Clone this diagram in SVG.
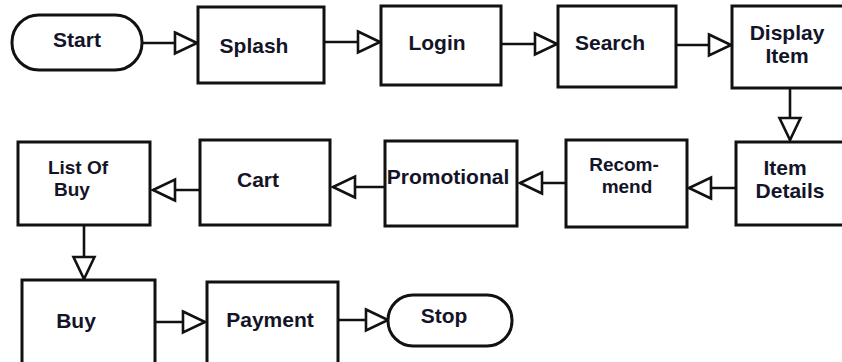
<svg xmlns="http://www.w3.org/2000/svg" width="842" height="362" viewBox="0 0 842 362">
  <defs>
    <style>
      .box { fill: #ffffff; stroke: #111111; stroke-width: 3; }
      .lbl { font-family: "Liberation Sans", Arial, sans-serif; font-weight: 700; font-size: 21px; fill: #141428; text-anchor: middle; }
      .tight { font-size: 19px; }
      .edge { fill: none; stroke: #111111; stroke-width: 2.6; }
    </style>
    <marker id="arr" viewBox="0 0 26 26" refX="24" refY="13" markerWidth="26" markerHeight="26" markerUnits="userSpaceOnUse" orient="auto">
      <path d="M2,2.5 L24,13 L2,23.5 Z" fill="#ffffff" stroke="#111111" stroke-width="2.6" stroke-linejoin="miter"/>
    </marker>
  </defs>
  <rect width="842" height="362" fill="#ffffff"/>

  <g id="connectors">
    <path class="edge" d="M142,43 H197" marker-end="url(#arr)"/>
    <path class="edge" d="M324,42 H380" marker-end="url(#arr)"/>
    <path class="edge" d="M501,44 H557" marker-end="url(#arr)"/>
    <path class="edge" d="M676,45 H731" marker-end="url(#arr)"/>
    <path class="edge" d="M790,88 V140" marker-end="url(#arr)"/>
    <path class="edge" d="M736,188 H689" marker-end="url(#arr)"/>
    <path class="edge" d="M566,183 H520" marker-end="url(#arr)"/>
    <path class="edge" d="M385,187 H333" marker-end="url(#arr)"/>
    <path class="edge" d="M200,190 H153" marker-end="url(#arr)"/>
    <path class="edge" d="M84,225 V279" marker-end="url(#arr)"/>
    <path class="edge" d="M155,322 H205" marker-end="url(#arr)"/>
    <path class="edge" d="M338,320 H388" marker-end="url(#arr)"/>
  </g>

  <g id="start">
    <rect class="box" x="12" y="15" width="130" height="55" rx="27" ry="27"/>
    <text class="lbl" x="77" y="47">Start</text>
  </g>
  <g id="splash">
    <rect class="box" x="198" y="7" width="126" height="76"/>
    <text class="lbl" x="254" y="53">Splash</text>
  </g>
  <g id="login">
    <rect class="box" x="381" y="6" width="120" height="79"/>
    <text class="lbl" x="437" y="50">Login</text>
  </g>
  <g id="search">
    <rect class="box" x="558" y="6" width="118" height="81"/>
    <text class="lbl" x="610" y="50">Search</text>
  </g>
  <g id="display-item">
    <rect class="box" x="732" y="6" width="120" height="82"/>
    <text class="lbl" x="787" y="40">Display</text>
    <text class="lbl" x="787" y="63">Item</text>
  </g>
  <g id="item-details">
    <rect class="box" x="736" y="142" width="120" height="83"/>
    <text class="lbl" x="785" y="175">Item</text>
    <text class="lbl" x="790" y="198">Details</text>
  </g>
  <g id="recommend">
    <rect class="box" x="566" y="140" width="121" height="87"/>
    <text class="lbl tight" x="624" y="171">Recom-</text>
    <text class="lbl tight" x="627" y="193">mend</text>
  </g>
  <g id="promotional">
    <rect class="box" x="385" y="141" width="132" height="85"/>
    <text class="lbl" x="448" y="184">Promotional</text>
  </g>
  <g id="cart">
    <rect class="box" x="200" y="140" width="130" height="85"/>
    <text class="lbl" x="258" y="187">Cart</text>
  </g>
  <g id="list-of-buy">
    <rect class="box" x="18" y="142" width="132" height="83"/>
    <text class="lbl tight" x="78" y="174">List Of</text>
    <text class="lbl tight" x="72" y="196">Buy</text>
  </g>
  <g id="buy">
    <rect class="box" x="22" y="280" width="133" height="90"/>
    <text class="lbl" x="76" y="328">Buy</text>
  </g>
  <g id="payment">
    <rect class="box" x="207" y="282" width="131" height="90"/>
    <text class="lbl" x="270" y="327">Payment</text>
  </g>
  <g id="stop">
    <rect class="box" x="388" y="295" width="124" height="51" rx="25" ry="25"/>
    <text class="lbl" x="444" y="323">Stop</text>
  </g>
</svg>
